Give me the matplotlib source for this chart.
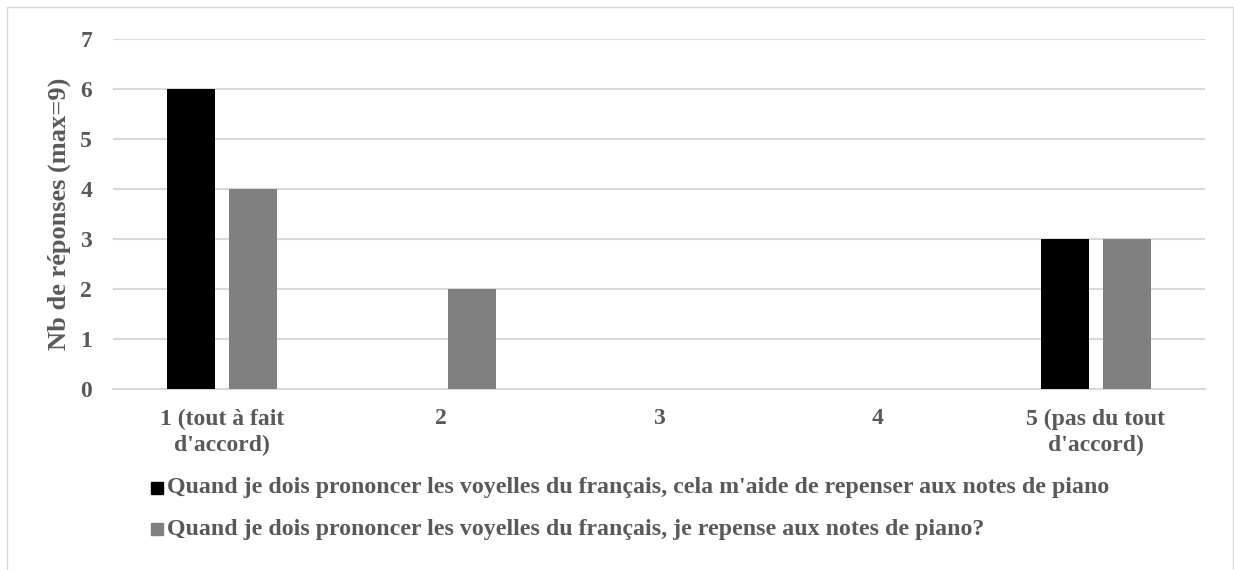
import numpy as np
import matplotlib.pyplot as plt
from matplotlib.patches import Rectangle

categories = ["1 (tout à fait\nd'accord)", "2", "3", "4", "5 (pas du tout\nd'accord)"]
aide_notes = [6, 0, 0, 0, 3]
repense_notes = [4, 2, 0, 0, 3]
series_labels = [
    "Quand je dois prononcer les voyelles du français, cela m'aide de repenser aux notes de piano",
    "Quand je dois prononcer les voyelles du français, je repense aux notes de piano?",
]

plt.rcParams['font.family'] = ['Liberation Serif', 'DejaVu Serif']
plt.rcParams['font.weight'] = 'bold'
txt = '#595959'

fig = plt.figure(figsize=(12.34, 5.70), dpi=100)
ax = fig.add_axes([0.0916, 0.3175, 0.885, 0.6141])

x = np.arange(len(categories))
w = 0.22
ax.bar(x - 0.142, aide_notes, w, color='black', zorder=3)
ax.bar(x + 0.142, repense_notes, w, color='#808080', zorder=3)

ax.set_xlim(-0.5, 4.5)
ax.set_ylim(0, 7)
ax.set_yticks(range(8))
ax.grid(axis='y', color='#d9d9d9', linewidth=1.5, zorder=0)
for s in ['top', 'right', 'left']:
    ax.spines[s].set_visible(False)
ax.spines['bottom'].set_color('#d9d9d9')
ax.spines['bottom'].set_linewidth(1.5)
ax.tick_params(length=0)
ax.tick_params(axis='y', labelsize=17, labelcolor=txt, pad=15)
ax.set_xticks(x)
ax.set_xticklabels(categories, fontsize=17, color=txt, fontweight='bold', linespacing=1.3)
ax.tick_params(axis='x', pad=14)
ax.set_ylabel('Nb de réponses (max=9)', fontsize=19, color=txt, fontweight='bold', labelpad=7)

# legend drawn as figure-level rows
rows_y = [1 - 488 / 570, 1 - 529 / 570]
colors = ['black', '#808080']
for yy, c, lab in zip(rows_y, colors, series_labels):
    fig.patches.append(Rectangle((151 / 1234, yy - 6 / 570), 12 / 1234, 12 / 570,
                                 transform=fig.transFigure, color=c))
    fig.text(167 / 1234, yy, lab, fontsize=17.2, color=txt, fontweight='bold', va='center')

# chart frame
fig.patches.append(Rectangle((7 / 1234, -0.01), 1226 / 1234, 1 - 7 / 570 + 0.01,
                             transform=fig.transFigure, fill=False, edgecolor='#d9d9d9', linewidth=1))

fig.savefig('out.png', dpi=100)
